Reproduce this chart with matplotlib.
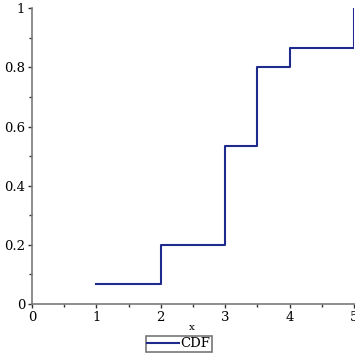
import matplotlib
matplotlib.use("Agg")
import matplotlib.pyplot as plt
from matplotlib.ticker import MultipleLocator

# step data of the CDF
x_vals = [1, 2, 3, 3.5, 4, 5, 5]
cdf_vals = [1/15, 3/15, 8/15, 12/15, 13/15, 13/15, 1.0]

plt.rcParams['font.family'] = ['DejaVu Serif']

fig = plt.figure(figsize=(3.55, 3.55), dpi=100)
ax = fig.add_axes([0.090, 0.1437, 0.907, 0.833])

ax.step(x_vals, cdf_vals, where='post', color='#1e2a8c', linewidth=1.5, label='CDF')

ax.set_xlim(0, 5)
ax.set_ylim(0, 1)
ax.xaxis.set_major_locator(MultipleLocator(1))
ax.xaxis.set_minor_locator(MultipleLocator(0.5))
ax.yaxis.set_minor_locator(MultipleLocator(0.1))
ax.set_yticks([0, 0.2, 0.4, 0.6, 0.8, 1])
ax.set_yticklabels(['0', '0.2', '0.4', '0.6', '0.8', '1'])

for s in ['top', 'right']:
    ax.spines[s].set_visible(False)
for s in ['left', 'bottom']:
    ax.spines[s].set_color('#7a7a7a')
    ax.spines[s].set_linewidth(1.2)

ax.tick_params(which='major', length=3, width=1, color='#333333', labelsize=9.5, pad=2)
ax.tick_params(which='minor', length=2, width=1, color='#333333')

fig.text(0.541, 0.077, 'x', fontsize=7.5, ha='center', va='center')
leg = fig.legend(loc='center', bbox_to_anchor=(0.503, 0.031), fontsize=9.5,
                 frameon=True, fancybox=False, handlelength=2.4,
                 borderpad=0.12, handletextpad=0.1, borderaxespad=0)
leg.get_frame().set_edgecolor('#555555')
leg.get_frame().set_linewidth(1.2)

fig.savefig('out.png', dpi=100)
